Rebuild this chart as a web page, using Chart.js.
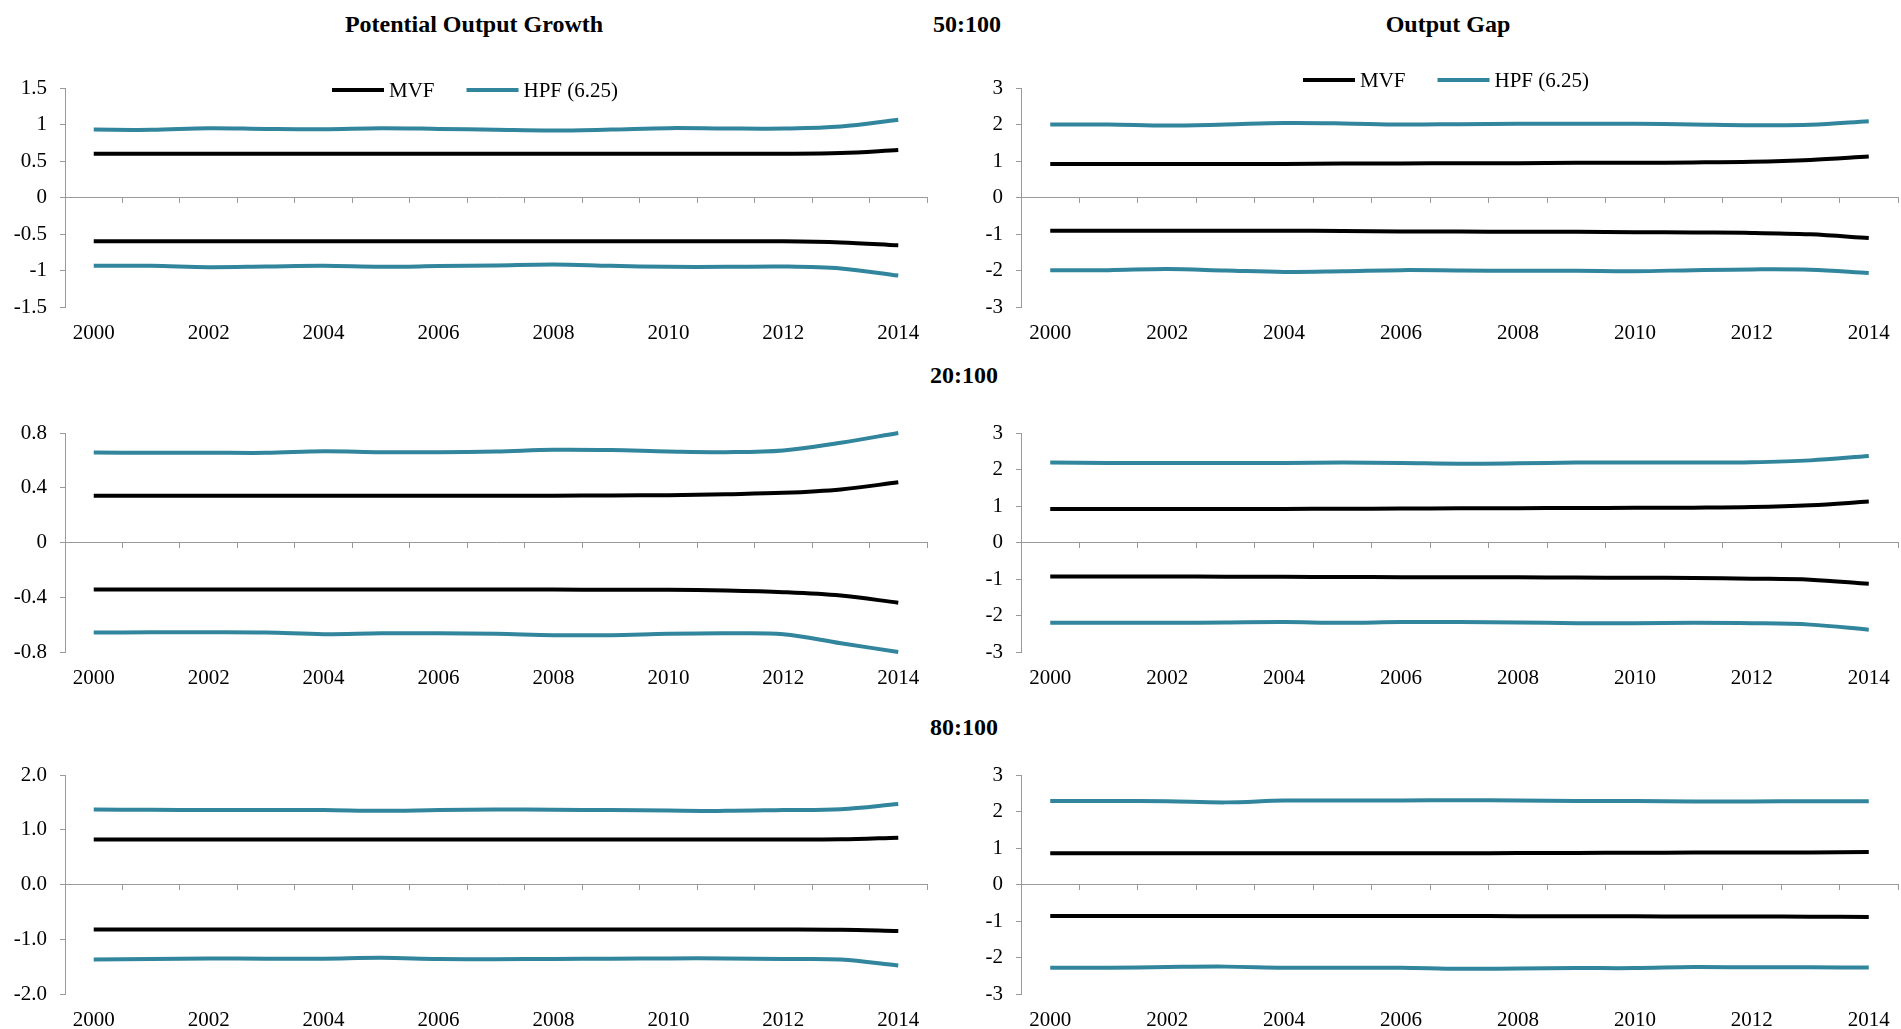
<!DOCTYPE html>
<html>
<head>
<meta charset="utf-8">
<script src="https://cdn.jsdelivr.net/npm/chart.js@4/dist/chart.umd.min.js"></script>
<style>
html,body{margin:0;padding:0;width:1901px;height:1029px;overflow:hidden;background:#fff;}
.box{position:absolute;}
.t{position:absolute;font-family:"Liberation Serif","Times New Roman",serif;font-weight:bold;font-size:24px;color:#000;transform:translate(-50%,-50%);white-space:nowrap;line-height:1;}
</style>
</head>
<body>
<div class="t" style="left:474px;top:24px">Potential Output Growth</div>
<div class="t" style="left:967px;top:24px">50:100</div>
<div class="t" style="left:1448px;top:24px">Output Gap</div>
<div class="t" style="left:964px;top:375px">20:100</div>
<div class="t" style="left:964px;top:727px">80:100</div>

<div class="box" id="b0" style="left:0px;top:40px;width:940px;height:307px"><canvas id="c0"></canvas></div>
<div class="box" id="b1" style="left:950px;top:40px;width:951px;height:307px"><canvas id="c1"></canvas></div>
<div class="box" id="b2" style="left:0px;top:393px;width:940px;height:299px"><canvas id="c2"></canvas></div>
<div class="box" id="b3" style="left:950px;top:393px;width:951px;height:299px"><canvas id="c3"></canvas></div>
<div class="box" id="b4" style="left:0px;top:735px;width:940px;height:299px"><canvas id="c4"></canvas></div>
<div class="box" id="b5" style="left:950px;top:735px;width:951px;height:299px"><canvas id="c5"></canvas></div>

<script>
// ---------- DATA ----------
const years = ['2000','2001','2002','2003','2004','2005','2006','2007','2008','2009','2010','2011','2012','2013','2014'];
const seriesNames = ['MVF', 'HPF (6.25)'];

// Potential Output Growth, 50:100
const pog50_mvfUp = [0.60,0.60,0.60,0.60,0.60,0.60,0.60,0.60,0.60,0.60,0.60,0.60,0.60,0.61,0.65];
const pog50_mvfLo = [-0.60,-0.60,-0.60,-0.60,-0.60,-0.60,-0.60,-0.60,-0.60,-0.60,-0.60,-0.60,-0.60,-0.615,-0.655];
const pog50_hpfUp = [0.93,0.927,0.95,0.94,0.936,0.95,0.94,0.927,0.917,0.931,0.95,0.945,0.945,0.972,1.064];
const pog50_hpfLo = [-0.936,-0.936,-0.954,-0.945,-0.936,-0.95,-0.94,-0.93,-0.917,-0.936,-0.95,-0.95,-0.945,-0.972,-1.069];
// Output Gap, 50:100
const gap50_mvfUp = [0.92,0.92,0.92,0.92,0.92,0.93,0.93,0.94,0.94,0.95,0.95,0.96,0.98,1.03,1.12];
const gap50_mvfLo = [-0.91,-0.91,-0.91,-0.91,-0.91,-0.92,-0.93,-0.93,-0.94,-0.94,-0.95,-0.96,-0.97,-1.01,-1.11];
const gap50_hpfUp = [2.00,2.00,1.97,2.00,2.04,2.03,2.00,2.01,2.02,2.02,2.02,2.00,1.98,1.99,2.09];
const gap50_hpfLo = [-1.99,-1.99,-1.96,-2.00,-2.04,-2.02,-1.99,-2.00,-2.01,-2.01,-2.02,-1.99,-1.97,-1.98,-2.07];
// Potential Output Growth, 20:100
const pog20_mvfUp = [0.341,0.341,0.341,0.341,0.341,0.341,0.341,0.341,0.342,0.344,0.346,0.353,0.363,0.388,0.44];
const pog20_mvfLo = [-0.344,-0.344,-0.344,-0.344,-0.344,-0.344,-0.344,-0.344,-0.344,-0.345,-0.346,-0.351,-0.363,-0.388,-0.44];
const pog20_hpfUp = [0.658,0.655,0.656,0.655,0.667,0.66,0.66,0.665,0.677,0.675,0.665,0.66,0.672,0.729,0.80];
const pog20_hpfLo = [-0.658,-0.656,-0.656,-0.658,-0.67,-0.663,-0.663,-0.667,-0.677,-0.677,-0.667,-0.663,-0.67,-0.736,-0.80];
// Output Gap, 20:100
const gap20_mvfUp = [0.915,0.915,0.915,0.92,0.92,0.925,0.93,0.935,0.94,0.945,0.95,0.955,0.97,1.02,1.12];
const gap20_mvfLo = [-0.93,-0.93,-0.93,-0.935,-0.94,-0.945,-0.95,-0.95,-0.955,-0.96,-0.965,-0.97,-0.99,-1.02,-1.13];
const gap20_hpfUp = [2.19,2.18,2.18,2.18,2.18,2.19,2.18,2.16,2.17,2.19,2.19,2.19,2.20,2.25,2.37];
const gap20_hpfLo = [-2.20,-2.20,-2.20,-2.19,-2.18,-2.20,-2.18,-2.18,-2.19,-2.21,-2.21,-2.20,-2.21,-2.25,-2.39];
// Potential Output Growth, 80:100
const pog80_mvfUp = [0.82,0.82,0.82,0.82,0.82,0.82,0.82,0.82,0.82,0.82,0.82,0.82,0.82,0.825,0.856];
const pog80_mvfLo = [-0.82,-0.82,-0.82,-0.82,-0.82,-0.82,-0.82,-0.82,-0.82,-0.82,-0.82,-0.82,-0.82,-0.825,-0.85];
const pog80_hpfUp = [1.37,1.365,1.36,1.36,1.36,1.345,1.36,1.37,1.365,1.36,1.35,1.345,1.36,1.376,1.47];
const pog80_hpfLo = [-1.37,-1.36,-1.35,-1.355,-1.355,-1.34,-1.36,-1.364,-1.36,-1.355,-1.35,-1.35,-1.36,-1.37,-1.48];
// Output Gap, 80:100
const gap80_mvfUp = [0.853,0.853,0.853,0.853,0.853,0.855,0.855,0.855,0.86,0.865,0.87,0.875,0.875,0.88,0.89];
const gap80_mvfLo = [-0.862,-0.862,-0.862,-0.862,-0.862,-0.862,-0.865,-0.865,-0.867,-0.87,-0.872,-0.875,-0.877,-0.882,-0.89];
const gap80_hpfUp = [2.29,2.29,2.28,2.25,2.30,2.30,2.30,2.31,2.30,2.29,2.285,2.275,2.275,2.28,2.28];
const gap80_hpfLo = [-2.28,-2.28,-2.26,-2.25,-2.28,-2.28,-2.28,-2.31,-2.30,-2.29,-2.29,-2.26,-2.27,-2.27,-2.275];

// y-axis ranges: [min, max, step, decimals(-1 = auto)]
const yPog50 = [-1.5, 1.5, 0.5, -1];
const yPog20 = [-0.8, 0.8, 0.4, -1];
const yPog80 = [-2, 2, 1, 1];
const yGap   = [-3, 3, 1, -1];

// ---------- STYLE ----------
const FONT = '"Liberation Serif", "Times New Roman", serif';
const GRAY = '#9a9a9a';
const BLACK = '#000000';
const TEAL = '#31859c';

const bandLegend = {
  id: 'bandLegend',
  afterDraw(chart, args, opts) {
    if (!opts || !opts.show) return;
    const ctx = chart.ctx;
    const seen = [];
    chart.data.datasets.forEach(d => { if (!seen.find(s => s.text === d.label)) seen.push({text: d.label, color: d.borderColor}); });
    ctx.save();
    ctx.font = '21px ' + FONT;
    ctx.textBaseline = 'middle';
    ctx.textAlign = 'left';
    let x = opts.x;
    const y = opts.y;
    seen.forEach(it => {
      ctx.strokeStyle = it.color; ctx.lineWidth = 4; ctx.lineCap = 'butt';
      ctx.beginPath(); ctx.moveTo(x, y); ctx.lineTo(x + 52, y); ctx.stroke();
      x += 57;
      ctx.fillStyle = '#000';
      ctx.fillText(it.text, x, y + 1);
      x += ctx.measureText(it.text).width + 32;
    });
    ctx.restore();
  }
};

function ds(label, data, color) {
  return { label, data, borderColor: color, backgroundColor: color, borderWidth: 4,
           pointRadius: 0, pointHoverRadius: 0, tension: 0.35, fill: false, clip: false,
           xAxisID: 'x', yAxisID: 'y' };
}

function makeChart(id, p) {
  const [ymin, ymax, ystep, dec] = p.yr;
  new Chart(document.getElementById(id), {
    type: 'line',
    data: {
      labels: years,
      datasets: [
        ds(seriesNames[0], p.mvfUp, BLACK),
        ds(seriesNames[1], p.hpfUp, TEAL),
        ds(seriesNames[0], p.mvfLo, BLACK),
        ds(seriesNames[1], p.hpfLo, TEAL)
      ]
    },
    options: {
      responsive: true, maintainAspectRatio: false, animation: false, devicePixelRatio: 1,
      layout: { padding: { top: p.padTop, right: p.padRight, left: 0, bottom: 0 } },
      plugins: {
        legend: { display: false }, tooltip: { enabled: false },
        bandLegend: p.legend ? { show: true, x: p.legend[0], y: p.legend[1] } : { show: false }
      },
      scales: {
        x: {
          type: 'category', position: 'bottom', offset: true,
          grid: { display: false }, border: { display: false },
          ticks: { autoSkip: false, maxRotation: 0, minRotation: 0, padding: 6, color: '#000',
                   font: { family: FONT, size: 21 },
                   callback: function (v, i) { return i % 2 === 0 ? years[i] : ''; } },
          afterFit: s => { s.height = 40; }
        },
        x0: {
          type: 'category', position: { y: 0 }, offset: true,
          grid: { display: true, drawOnChartArea: false, drawTicks: true, tickLength: 5, offset: true, color: GRAY, lineWidth: 1 },
          border: { display: true, color: GRAY, width: 1 },
          ticks: { display: false }
        },
        y: {
          type: 'linear', position: 'left', min: ymin, max: ymax,
          grid: { display: true, drawOnChartArea: false, drawTicks: true, tickLength: 5, color: GRAY, lineWidth: 1 },
          border: { display: true, color: GRAY, width: 1 },
          ticks: { stepSize: ystep, padding: 13, color: '#000', font: { family: FONT, size: 21 },
                   callback: v => dec >= 0 ? Number(v).toFixed(dec) : String(Number(Number(v).toFixed(3))) },
          afterFit: s => { s.width = p.axisW; }
        }
      }
    },
    plugins: [bandLegend]
  });
}

makeChart('c0', { mvfUp: pog50_mvfUp, mvfLo: pog50_mvfLo, hpfUp: pog50_hpfUp, hpfLo: pog50_hpfLo, yr: yPog50, axisW: 65, padTop: 48, padRight: 13, legend: [332, 50] });
makeChart('c1', { mvfUp: gap50_mvfUp, mvfLo: gap50_mvfLo, hpfUp: gap50_hpfUp, hpfLo: gap50_hpfLo, yr: yGap, axisW: 71, padTop: 48, padRight: 3, legend: [353, 40] });
makeChart('c2', { mvfUp: pog20_mvfUp, mvfLo: pog20_mvfLo, hpfUp: pog20_hpfUp, hpfLo: pog20_hpfLo, yr: yPog20, axisW: 65, padTop: 40, padRight: 13 });
makeChart('c3', { mvfUp: gap20_mvfUp, mvfLo: gap20_mvfLo, hpfUp: gap20_hpfUp, hpfLo: gap20_hpfLo, yr: yGap, axisW: 71, padTop: 40, padRight: 3 });
makeChart('c4', { mvfUp: pog80_mvfUp, mvfLo: pog80_mvfLo, hpfUp: pog80_hpfUp, hpfLo: pog80_hpfLo, yr: yPog80, axisW: 65, padTop: 40, padRight: 13 });
makeChart('c5', { mvfUp: gap80_mvfUp, mvfLo: gap80_mvfLo, hpfUp: gap80_hpfUp, hpfLo: gap80_hpfLo, yr: yGap, axisW: 71, padTop: 40, padRight: 3 });
</script>
</body>
</html>
